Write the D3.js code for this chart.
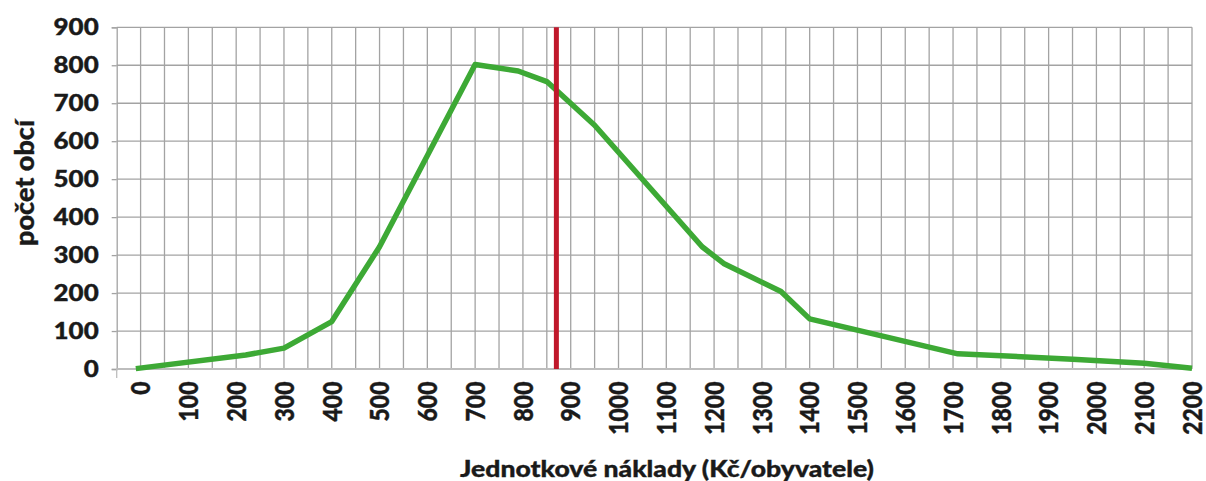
<!DOCTYPE html>
<html>
<head>
<meta charset="utf-8">
<script src="https://cdn.jsdelivr.net/npm/d3@7"></script>
<style>
	body { margin: 0; background: #fff; }
	text { font-family: Lato, 'Open Sans', sans-serif; font-weight: 900; fill: #1a1a1a; stroke: #1a1a1a; stroke-width: 0.35px; }
</style>
</head>
<body>
<div id="chart"></div>
<script>
// data
const costValues = [-10, 220, 300, 400, 500, 700, 790, 850, 950, 1175, 1220, 1340, 1400, 1710, 1950, 2100, 2200];
const townCounts = [1, 37, 55, 125, 322, 802, 785, 757, 642, 322, 278, 204, 132, 40, 26, 15, 2];
const xTickLabels = d3.range(0, 2201, 100);
const yTickLabels = [0, 100, 200, 300, 400, 500, 600, 700, 800, 900];
const averageCost = 870;
const xTitle = 'Jednotkové náklady (Kč/obyvatele)';
const yTitle = 'počet obcí';

const width = 1206, height = 481;
// margins top/right/bottom/left
const margin = [27.3, 14, 112, 116.7];
const stretch = 1.18; // text in the picture is a bit wider than normal

const svg = d3.select('#chart')
	.append('svg')
	.attr('width', width)
	.attr('height', height);

const scaleX = d3.scaleLinear()
	.domain([-50, 2200])
	.range([margin[3], width - margin[1]]);
const scaleY = d3.scaleLinear()
	.domain([0, 900])
	.range([height - margin[2], margin[0]]);

// GRID
const grid = svg.append('g');
grid.selectAll('line.vgrid')
	.data(d3.range(0, 2201, 50))
	.join('line')
	.classed('vgrid', true)
	.attr('x1', d => scaleX(d)).attr('x2', d => scaleX(d))
	.attr('y1', scaleY(900)).attr('y2', scaleY(0))
	.attr('stroke', '#a3a3a3')
	.attr('stroke-width', 1.3);
grid.selectAll('line.hgrid')
	.data(yTickLabels.filter(d => d > 0))
	.join('line')
	.classed('hgrid', true)
	.attr('x1', scaleX(-50)).attr('x2', scaleX(2200))
	.attr('y1', d => scaleY(d)).attr('y2', d => scaleY(d))
	.attr('stroke', '#a3a3a3')
	.attr('stroke-width', 1.3);

// AXES
const yAxis = svg.append('g')
	.attr('transform', `translate(${scaleX(-50)},0)`)
	.call(d3.axisLeft(scaleY).tickValues(yTickLabels).tickSize(5).tickPadding(13).tickFormat(d => d));
yAxis.select('.domain').attr('stroke', '#a3a3a3').attr('stroke-width', 1.3);
yAxis.selectAll('.tick line').attr('stroke', '#a3a3a3').attr('stroke-width', 1.3);
yAxis.selectAll('.tick text')
	.style('font-size', '22px')
	.attr('fill', '#1a1a1a')
	.attr('transform', function() {
		// stretch horizontally around the right edge
		const x = +d3.select(this).attr('x');
		return `translate(${x},0) scale(${stretch},1) translate(${-x},0)`;
	});

svg.append('line')
	.attr('x1', scaleX(-50)).attr('x2', scaleX(2200))
	.attr('y1', scaleY(0)).attr('y2', scaleY(0))
	.attr('stroke', '#bdbdbd')
	.attr('stroke-width', 2);
svg.append('line')
	.attr('x1', scaleX(-50)).attr('x2', scaleX(-50))
	.attr('y1', scaleY(0)).attr('y2', scaleY(0) + 9)
	.attr('stroke', '#bdbdbd')
	.attr('stroke-width', 1.3);

// x tick labels, rotated
svg.append('g')
	.selectAll('text.xlbl')
	.data(xTickLabels)
	.join('text')
	.classed('xlbl', true)
	.attr('transform', d => `translate(${scaleX(d)},${scaleY(0) + 12.5}) scale(${stretch},1) rotate(-90)`)
	.attr('text-anchor', 'end')
	.attr('dy', '0.36em')
	.style('font-size', '23px')
	.text(d => d);

// LINE
const lineGen = d3.line()
	.x(d => scaleX(d[0]))
	.y(d => scaleY(d[1]));
svg.append('path')
	.datum(d3.zip(costValues, townCounts))
	.attr('d', lineGen)
	.attr('fill', 'none')
	.attr('stroke', '#3da935')
	.attr('stroke-width', 5.5)
	.attr('stroke-linejoin', 'round');

// average marker
svg.append('line')
	.attr('x1', scaleX(averageCost)).attr('x2', scaleX(averageCost))
	.attr('y1', scaleY(900)).attr('y2', scaleY(0))
	.attr('stroke', '#c0182b')
	.attr('stroke-width', 5);

// TITLES
svg.append('text')
	.attr('transform', `translate(667,476.5) scale(${stretch},1)`)
	.attr('text-anchor', 'middle')
	.style('font-size', '22.5px')
	.text(xTitle);

svg.append('text')
	.attr('transform', 'translate(34,183) rotate(-90)')
	.attr('text-anchor', 'middle')
	.style('font-size', '27px')
	.text(yTitle);
</script>
</body>
</html>
